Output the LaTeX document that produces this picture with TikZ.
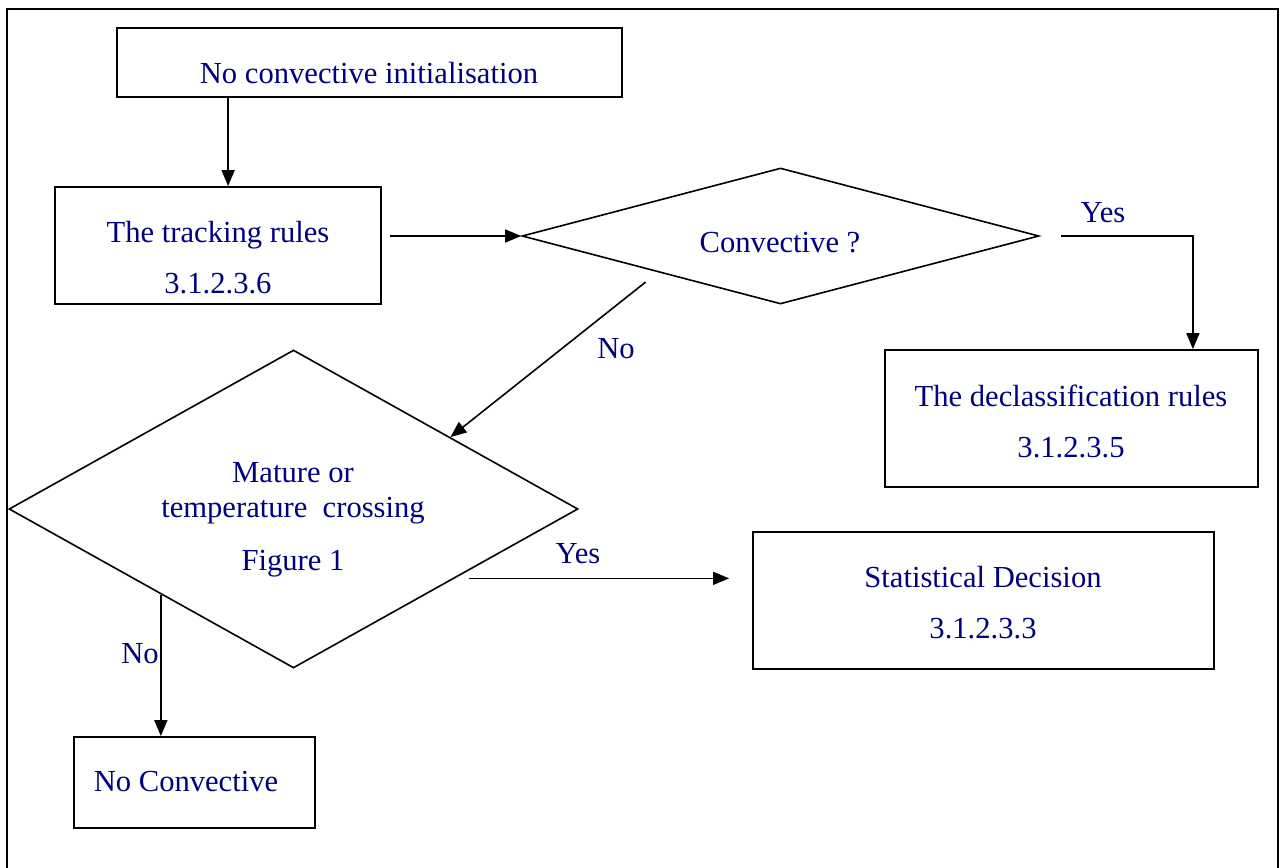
\documentclass[tikz,border=0pt]{standalone}
\usepackage{fontspec}
\setmainfont{Liberation Serif}
\usetikzlibrary{arrows.meta,%
                shapes.geometric,%
                calc%
              }
\definecolor{navytext}{RGB}{0,0,128}
\def\flowboxes{{(369.5,62.5)/init/252.5pt/34.5pt},%
  {(218,245.5)/track/163pt/58.5pt},%
  {(1071.5,418.5)/declass/186.5pt/68.5pt},%
  {(983.5,600.5)/stat/230.5pt/68.5pt},%
  {(194.5,782.5)/noconv/120.5pt/45.5pt}%
}
\def\flowtests{{(780.5,236)/conv/258.5pt/68pt},%
  {(293.5,509)/mature/284.5pt/159pt}%
}
\begin{document}
\begin{tikzpicture}[x=0.5pt,y=-0.5pt,%
    every node/.style={inner sep=0pt,text=navytext,%
      font=\fontsize{15.3}{25.5}\selectfont},%
    box/.style={rectangle,draw,line width=0.9pt},%
    test/.style={diamond,draw,line width=0.8pt},%
    arr/.style={-{Triangle[length=8pt,width=6.5pt]},line width=0.8pt}]

  \useasboundingbox (0,0) rectangle (1281,868);
  % frame, open at the bottom
  \draw[line width=0.9pt] (7,868) -- (7,9) -- (1278,9) -- (1278,868);

  \foreach \xy/\bname/\bw/\bh in \flowboxes {%
    \node[box,minimum width=\bw,minimum height=\bh] (\bname) at \xy {};%
  }
  \foreach \xy/\bname/\bw/\bh in \flowtests {%
    \node[test,minimum width=\bw,minimum height=\bh] (\bname) at \xy {};%
  }

  % texts in the boxes
  \node[anchor=base] (tInit) at (369,83) {No convective initialisation};
  \node[align=center] (tTrack) at (218,258) {The tracking rules\\3.1.2.3.6};
  \node[anchor=base] (tConv) at (780,252) {Convective ?};
  \node[align=center] (tDeclass) at (1071,421.5) {The declassification rules\\3.1.2.3.5};
  \node[align=center,font=\fontsize{15.3}{17.5}\selectfont] (tMature) at (293,520)%
    {Mature or\\temperature\ \ crossing\\[9pt]Figure 1};
  \node[align=center] (tStat) at (983,603) {Statistical Decision\\3.1.2.3.3};
  \node[anchor=base] (tNoconv) at (186,791) {No Convective};

  % branch labels
  \node[anchor=base] (yesConv) at (1103,222) {Yes};
  \node[anchor=base] (noConv) at (616,358) {No};
  \node[anchor=base] (yesMature) at (578,563) {Yes};
  \node[anchor=base] (noMature) at (140,663) {No};

  % connectors
  \coordinate (initFoot) at ([xshift=56pt]init.south west);
  \draw[arr] (initFoot) -- (initFoot |- track.north);
  \draw[arr,shorten <=4pt] (track.east |- conv.west) -- (conv.west);

  \coordinate (declassIn) at ([xshift=-33pt]declass.north east);
  \draw[arr,shorten <=10.5pt] (conv.east) -| (declassIn);

  \coordinate (noStart) at ($(conv.west)!0.48!(conv.south)+(0,13)$);
  \draw[arr] (noStart) -- ($(mature.north)!0.55!(mature.east)$);

  \coordinate (yesStart) at ($(mature.east)!0.434!(mature.south)+(14,0)$);
  \draw[arr,shorten >=11.5pt] (yesStart) -- (yesStart -| stat.west);

  \coordinate (noFoot) at ($(mature.west)!0.535!(mature.south)$);
  \draw[arr] (noFoot) -- (noFoot |- noconv.north);

\end{tikzpicture}
\end{document}
